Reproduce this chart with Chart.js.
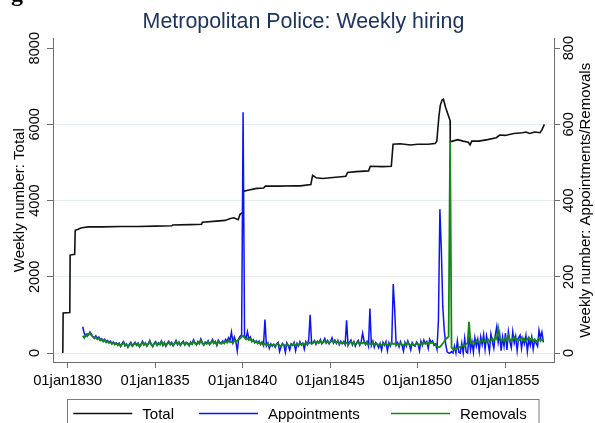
<!DOCTYPE html>
<html>
<head>
<meta charset="utf-8">
<script src="https://cdn.jsdelivr.net/npm/chart.js@4.4.1/dist/chart.umd.min.js"></script>
<style>
  html, body { margin: 0; padding: 0; background: #fff; }
  canvas { display: block; }
</style>
</head>
<body>
<canvas id="chart" width="595" height="423"></canvas>
<script>
// Total strength: points where the weekly total changes (decimal years)
const totalYears = [1829.72, 1829.74, 1830.12, 1830.14, 1830.40, 1830.43, 1830.6, 1830.75, 1831.0, 1831.2,
  1832.0, 1833.0, 1834.0, 1835.0, 1835.95, 1836.0, 1837.0, 1837.65, 1837.7, 1838.5,
  1839.0, 1839.3, 1839.5, 1839.75, 1839.85, 1839.98, 1840.02, 1840.3, 1840.8, 1841.2,
  1841.3, 1842.0, 1843.0, 1843.3, 1843.9, 1844.0, 1844.2, 1844.6, 1845.0, 1845.5,
  1845.9, 1846.0, 1846.5, 1847.2, 1847.3, 1848.0, 1848.5, 1848.6, 1849.0, 1849.6,
  1850.0, 1850.6, 1851.0, 1851.1, 1851.22, 1851.3, 1851.4, 1851.48, 1851.6, 1851.8,
  1851.86, 1851.87, 1852.0, 1852.3, 1852.6, 1852.9, 1853.0, 1853.1, 1853.5, 1854.0,
  1854.5, 1854.7, 1855.0, 1855.5, 1856.0, 1856.2, 1856.4, 1856.7, 1857.0, 1857.1, 1857.25];
const totalValues = [0, 1050, 1060, 2570, 2590, 3220, 3250, 3280, 3300, 3310,
  3310, 3320, 3320, 3330, 3340, 3360, 3370, 3380, 3430, 3460,
  3480, 3530, 3550, 3500, 3640, 3680, 4240, 4270, 4320, 4330,
  4380, 4380, 4390, 4385, 4420, 4660, 4600, 4580, 4600, 4620,
  4640, 4740, 4760, 4780, 4900, 4890, 4900, 5480, 5490, 5460,
  5480, 5480, 5500, 5560, 6200, 6500, 6640, 6660, 6450, 6180,
  6100, 5540, 5560, 5600, 5560, 5530, 5460, 5560, 5560, 5600,
  5650, 5720, 5710, 5760, 5780, 5800, 5760, 5800, 5780, 5850, 6000];

// Appointments and removals: one reading per month, starting Nov 1830
const flowStart = 1830.86;
const flowStep = 1 / 12;
const appointments = [
  69, 52, 44, 50, 47, 55, 49, 43, 40, 45, 38, 42,
  35, 38, 32, 36, 30, 33, 28, 31, 25, 29, 24, 27,
  22, 26, 17, 25, 30, 20, 24, 15, 23, 28, 19, 24,
  28, 21, 26, 16, 24, 31, 22, 27, 18, 25, 33, 23,
  17, 26, 30, 21, 27, 23, 32, 20, 28, 18, 26, 31,
  23, 28, 19, 26, 33, 22, 29, 20, 27, 31, 21, 28,
  26, 19, 29, 24, 35, 27, 21, 30, 25, 37, 28, 21,
  29, 25, 32, 22, 28, 36, 26, 31, 20, 34, 28, 25,
  32, 27, 36, 30, 40, 33, 55, 28, 42, 31, 5, 38,
  44, 48, 632, 46, 38, 56, 36, 42, 30, 35, 27, 32,
  25, 31, 22, 29, 20, 88, 19, 26, 12, 24, 18, 23,
  15, 24, 28, 4, 16, 25, 20, 2, 27, 19, 8, 24,
  20, 28, 6, 25, 18, 30, 21, 26, 10, 30, 22, 34,
  100, 25, 28, 33, 23, 31, 26, 35, 24, 30, 38, 26,
  33, 24, 31, 40, 26, 34, 25, 33, 22, 31, 24, 30,
  22, 86, 20, 28, 34, 21, 30, 18, 28, 33, 20, 29,
  52, 32, 22, 30, 18, 117, 20, 31, 15, 27, 22, 14,
  25, 8, 28, 20, 30, 6, 27, 18, 31, 181, 114, 20,
  27, 16, 30, 20, 5, 28, 18, 32, 22, 8, 27, 20,
  18, 29, 24, 6, 31, 20, 34, 25, 30, 12, 36, 28,
  32, 20, 24, 10, 86, 377, 270, 121, 60, 22, 3, 0,
  0, 4, 0, 18, 0, 32, 2, 0, 26, 0, 38, 3,
  0, 44, 8, 30, 2, 40, 18, 36, 4, 42, 22, 48,
  10, 45, 26, 4, 50, 30, 12, 46, 69, 28, 50, 6,
  42, 18, 52, 8, 56, 30, 14, 56, 26, 44, 6, 40,
  47, 12, 38, 24, 46, 4, 36, 20, 42, 10, 34, 26,
  18, 60, 40, 55, 28];
const removals = [
  45, 40, 48, 44, 50, 52, 46, 42, 38, 41, 36, 39,
  33, 36, 30, 34, 28, 31, 26, 29, 24, 27, 22, 26,
  20, 24, 18, 23, 27, 19, 22, 16, 21, 25, 18, 22,
  26, 20, 24, 17, 22, 28, 21, 25, 19, 23, 30, 22,
  18, 24, 27, 20, 25, 22, 29, 21, 26, 19, 24, 28,
  22, 26, 20, 24, 30, 23, 27, 21, 25, 28, 22, 26,
  24, 20, 27, 23, 31, 25, 22, 28, 24, 33, 26, 22,
  27, 24, 29, 23, 26, 32, 25, 28, 22, 30, 26, 24,
  29, 25, 31, 27, 33, 28, 30, 26, 34, 29, 32, 36,
  38, 42, 45, 40, 36, 39, 34, 37, 31, 33, 28, 30,
  26, 29, 24, 27, 22, 25, 21, 24, 19, 23, 20, 22,
  18, 22, 25, 20, 17, 23, 21, 19, 24, 20, 18, 22,
  21, 25, 19, 23, 20, 26, 22, 24, 21, 27, 23, 25,
  28, 24, 26, 30, 25, 29, 27, 31, 26, 28, 32, 27,
  30, 26, 29, 33, 28, 31, 27, 30, 25, 29, 26, 28,
  24, 27, 23, 26, 30, 24, 28, 22, 26, 29, 23, 27,
  25, 29, 24, 27, 22, 26, 23, 28, 21, 25, 24, 20,
  23, 19, 25, 22, 26, 20, 24, 21, 27, 23, 25, 22,
  24, 20, 26, 22, 19, 25, 21, 27, 23, 20, 24, 22,
  21, 25, 23, 20, 26, 22, 28, 24, 27, 23, 29, 26,
  28, 24, 22, 18, 15, 16, 20, 25, 30, 36, 40, 43,
  555, 14, 10, 12, 9, 13, 16, 14, 18, 21, 19, 24,
  26, 82, 28, 24, 30, 27, 33, 29, 26, 31, 35, 28,
  32, 29, 36, 30, 34, 38, 31, 42, 37, 65, 40, 34,
  36, 31, 39, 33, 45, 35, 30, 38, 42, 34, 37, 32,
  35, 40, 33, 37, 30, 36, 41, 34, 38, 32, 36, 30,
  34, 38, 31, 36, 33];

const leftTicks = [0, 2000, 4000, 6000, 8000];
const rightTicks = [0, 200, 400, 600, 800];
const yearTicks = [1830, 1835, 1840, 1845, 1850, 1855];

const FONT = '"Liberation Sans", Arial, Helvetica, sans-serif';
const axisColor = '#6e6e6e';
const gridColor = '#e5edf0';

Chart.defaults.font.family = FONT;
Chart.defaults.color = '#000';

function drawUp(ctx, text, x, y) {
  ctx.save();
  ctx.translate(x, y);
  ctx.rotate(-Math.PI / 2);
  ctx.fillText(text, 0, 0);
  ctx.restore();
}

// rotated tick labels, axis titles and the boxed legend, Stata style
const stataDecor = {
  id: 'stataDecor',
  afterDraw(chart) {
    const ctx = chart.ctx;
    const area = chart.chartArea;
    const yl = chart.scales.y;
    const yr = chart.scales.y1;
    ctx.save();
    ctx.fillStyle = '#000';
    ctx.textAlign = 'center';
    ctx.textBaseline = 'middle';

    ctx.font = '14.6px ' + FONT;
    yl.ticks.forEach(t => drawUp(ctx, String(t.value), 35, yl.getPixelForValue(t.value)));
    yr.ticks.forEach(t => drawUp(ctx, String(t.value), 569, yr.getPixelForValue(t.value)));

    ctx.font = '15px ' + FONT;
    const midY = (area.top + area.bottom) / 2;
    drawUp(ctx, yl.options.title.text, 19.5, midY);
    drawUp(ctx, yr.options.title.text, 585.5, midY);

    // cut-off caption letter at the very top
    ctx.font = 'bold 24px "Liberation Serif", serif';
    ctx.textAlign = 'left';
    ctx.textBaseline = 'alphabetic';
    ctx.fillText('g', 11, 1);

    // legend
    ctx.strokeStyle = '#7a7a7a';
    ctx.lineWidth = 1;
    ctx.strokeRect(67.5, 399.5, 471.5, 40);
    const cols = [73.3, 199, 391];
    ctx.font = '15px ' + FONT;
    chart.data.datasets.forEach((ds, i) => {
      const x = cols[i];
      ctx.strokeStyle = ds.borderColor;
      ctx.lineWidth = 1.3;
      ctx.beginPath();
      ctx.moveTo(x, 413.5);
      ctx.lineTo(x + 59, 413.5);
      ctx.stroke();
      ctx.fillText(ds.label, x + 69, 419.3);
    });
    ctx.restore();
  }
};

const totalData = totalYears.map((x, i) => ({ x: x, y: totalValues[i] }));
const apptData = appointments.map((v, i) => ({ x: flowStart + i * flowStep, y: v }));
const remData = removals.map((v, i) => ({ x: flowStart + i * flowStep, y: v }));

new Chart(document.getElementById('chart'), {
  type: 'line',
  data: {
    datasets: [
      { label: 'Total', data: totalData, yAxisID: 'y', borderColor: '#111111', borderWidth: 1.6, order: 2 },
      { label: 'Appointments', data: apptData, yAxisID: 'y1', borderColor: '#0a14f5', borderWidth: 1.5, order: 1 },
      { label: 'Removals', data: remData, yAxisID: 'y1', borderColor: '#16861a', borderWidth: 1.8, order: 0 }
    ]
  },
  options: {
    responsive: false,
    animation: false,
    devicePixelRatio: 1,
    elements: { point: { radius: 0 }, line: { tension: 0, fill: false } },
    layout: { padding: 0 },
    plugins: {
      legend: { display: false },
      tooltip: { enabled: false },
      title: {
        display: true,
        text: 'Metropolitan Police: Weekly hiring',
        color: '#1c3461',
        fullSize: false,
        font: { size: 21.4, weight: 'normal', lineHeight: 1.2 },
        padding: { top: 9.6, bottom: 3.2 }
      }
    },
    scales: {
      x: {
        type: 'linear',
        min: 1829.16,
        max: 1857.8,
        afterBuildTicks: s => { s.ticks = yearTicks.map(v => ({ value: v })); },
        afterFit: s => { s.height = 61; },
        ticks: {
          autoSkip: false, maxRotation: 0, padding: 4,
          font: { size: 14.8 },
          callback: v => '01jan' + v
        },
        grid: { drawOnChartArea: false, tickLength: 6, tickColor: axisColor },
        border: { display: true, color: axisColor, width: 1 }
      },
      y: {
        position: 'left',
        min: -236,
        max: 8254,
        afterBuildTicks: s => { s.ticks = leftTicks.map(v => ({ value: v })); },
        afterFit: s => { s.width = 53; },
        title: { display: false, text: 'Weekly number: Total' },
        ticks: { display: false },
        grid: {
          tickLength: 6,
          tickColor: axisColor,
          color: c => (c.tick && c.tick.value === 8000) ? 'rgba(0,0,0,0)' : gridColor
        },
        border: { display: true, color: axisColor, width: 1 }
      },
      y1: {
        position: 'right',
        min: -23.6,
        max: 825.4,
        afterBuildTicks: s => { s.ticks = rightTicks.map(v => ({ value: v })); },
        afterFit: s => { s.width = 41; },
        title: { display: false, text: 'Weekly number: Appointments/Removals' },
        ticks: { display: false },
        grid: { drawOnChartArea: false, tickLength: 6, tickColor: axisColor },
        border: { display: true, color: axisColor, width: 1 }
      }
    }
  },
  plugins: [stataDecor]
});
</script>
</body>
</html>
